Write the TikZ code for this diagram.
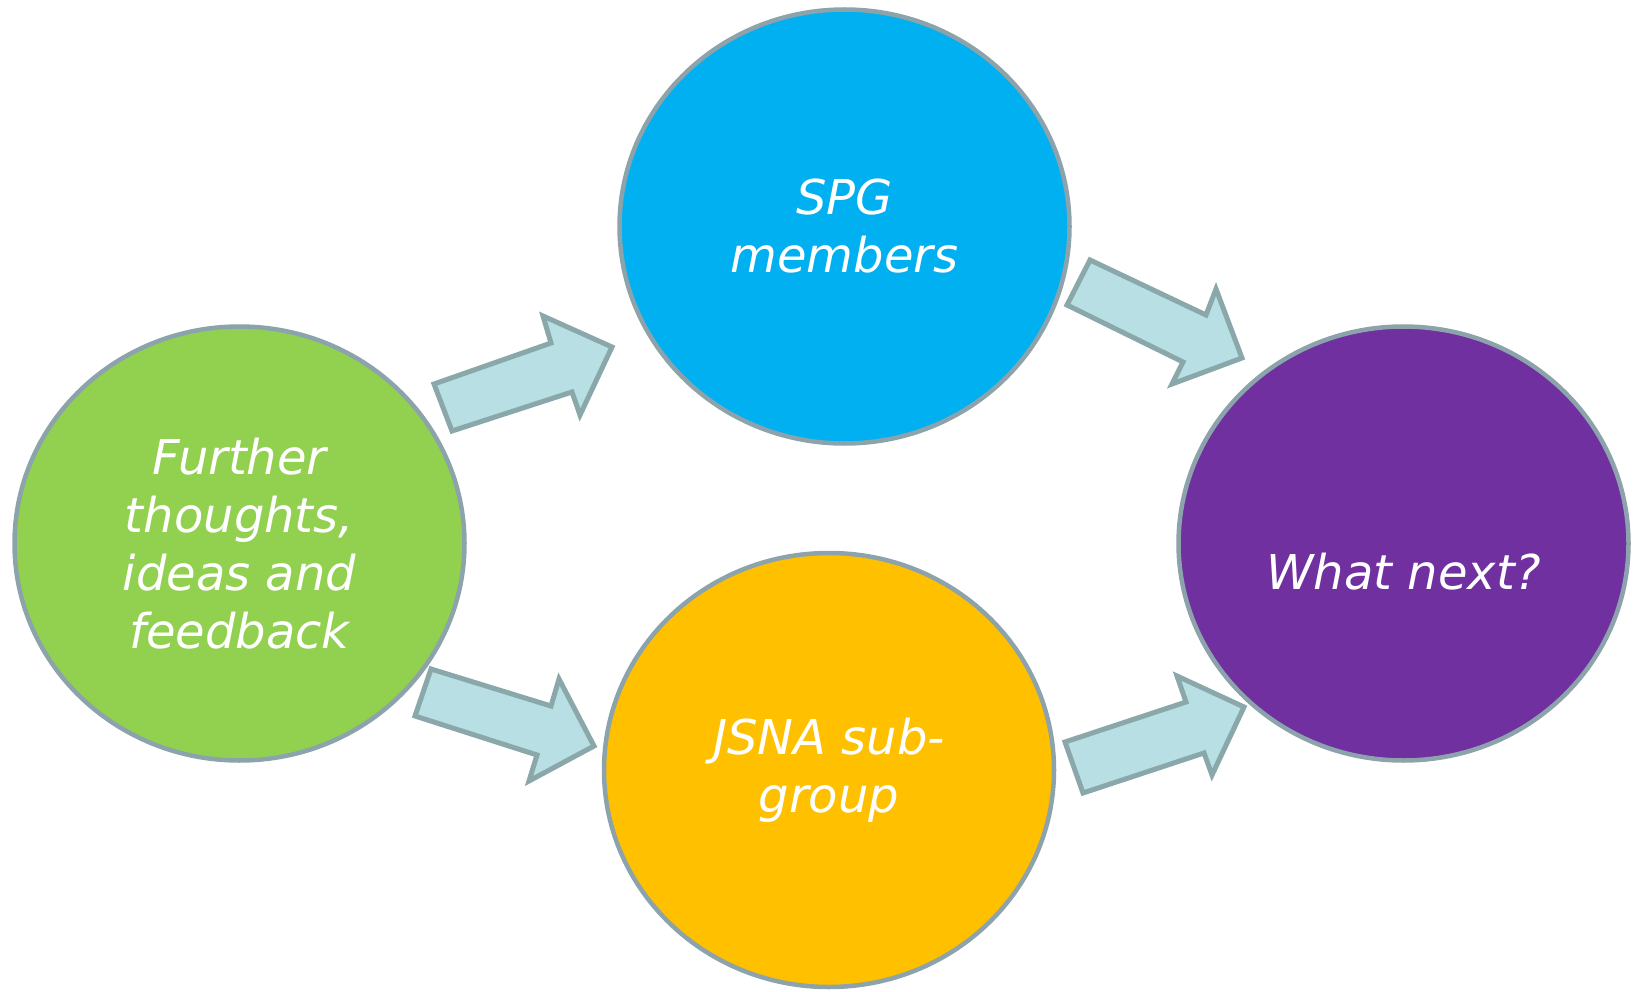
\documentclass[tikz,border=0pt]{standalone}
\usepackage{fontspec}
\setmainfont{DejaVu Sans}
\usepackage{tikz}
\usetikzlibrary{shapes.geometric}

\definecolor{feedgreen}{HTML}{92D050}
\definecolor{spgblue}{HTML}{00B0F0}
\definecolor{jsnayellow}{HTML}{FFC000}
\definecolor{nextpurple}{HTML}{7030A0}
\definecolor{rimgray}{HTML}{8DA3AB}
\definecolor{arrowrim}{HTML}{8AA8AA}
\definecolor{arrowfill}{HTML}{B8DFE3}

\begin{document}
\begin{tikzpicture}[x = 1pt, y = -1pt,
  bubble/.style = {ellipse, draw = rimgray, line width = 4.5pt, minimum width = 450pt, minimum height = 434pt, inner sep = 0pt, text = white, font = \fontsize{48}{58}\selectfont\itshape, align = center},
  blockarrow/.style = {draw = arrowrim, fill = arrowfill, line width = 5pt, line join = miter}]
\useasboundingbox (0,0) rectangle (1635,992);

\node[bubble, fill = feedgreen] (feedback) at (239.5,543.5) {Further\\thoughts,\\ideas and\\feedback};
\node[bubble, fill = spgblue] (spg) at (844.5,226.5) {SPG\\members};
\node[bubble, fill = jsnayellow] (jsna) at (829,770) {JSNA sub-\\group};
\node[bubble, fill = nextpurple] (next) at (1403.5,543.5) {};
\node[text = white, font = \fontsize{48}{58}\selectfont\itshape] (nexttext) at (1403.5,572) {What next?};

% block arrows
\draw[blockarrow] (434,384)--(551,343)--(543,316)--(612,347)--(580,415)--(572,392)--(452,431)--cycle;
\draw[blockarrow] (431,669)--(551,706)--(559,679)--(594,746)--(529,781)--(537,755)--(415,716)--cycle;
\draw[blockarrow] (1090,260)--(1206,315)--(1216,289)--(1242,358)--(1172,384)--(1183,362)--(1067,305)--cycle;
\draw[blockarrow] (1065,742)--(1186,702)--(1177,676)--(1244,707)--(1212,775)--(1204,753)--(1083,793)--cycle;
\end{tikzpicture}
\end{document}
